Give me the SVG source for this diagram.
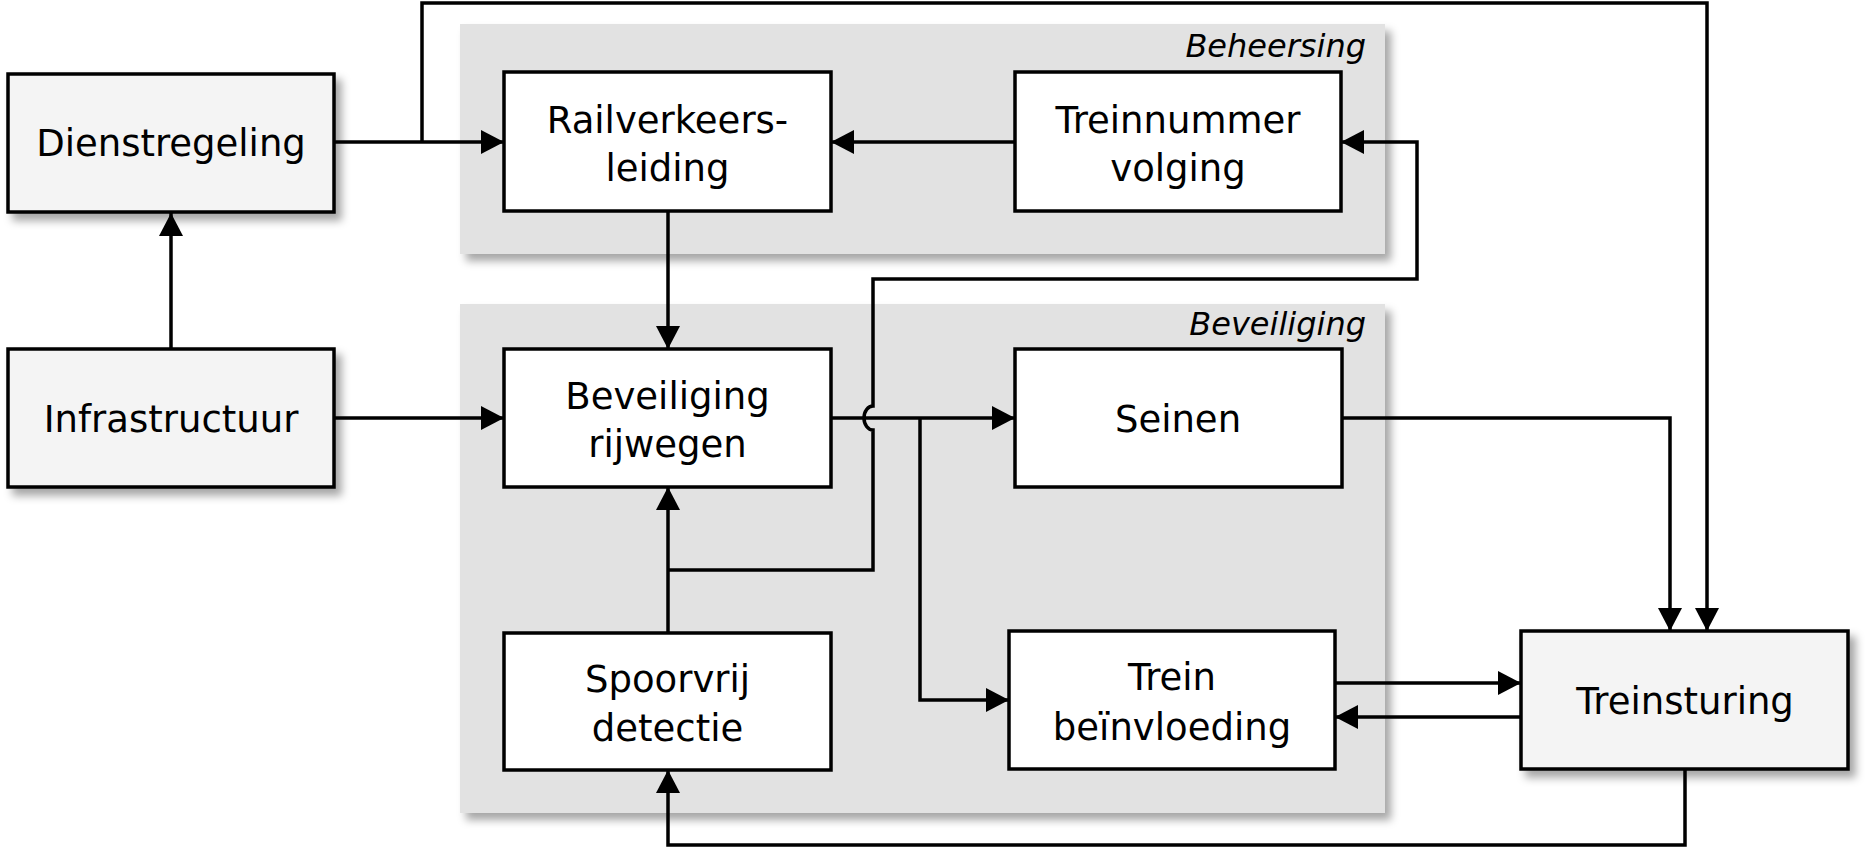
<svg xmlns="http://www.w3.org/2000/svg" width="1873" height="848" viewBox="0 0 1873 848">
<style>
.grp{fill:#e2e2e2;}
.outer{fill:#f4f4f4;stroke:#000;stroke-width:3.5;}
.inner{fill:#ffffff;stroke:#000;stroke-width:3.5;}
.t{font-family:"DejaVu Sans","Verdana",sans-serif;font-size:37px;fill:#000;text-anchor:middle;}
.gl{font-family:"DejaVu Sans","Verdana",sans-serif;font-size:32px;font-style:italic;fill:#000;text-anchor:end;}
.c{fill:none;stroke:#000;stroke-width:3.5;stroke-linejoin:miter;}
</style>
<defs>
<filter id="sh" x="-10%" y="-10%" width="125%" height="130%">
<feDropShadow dx="6" dy="7" stdDeviation="4" flood-color="#000" flood-opacity="0.35"/>
</filter>
<marker id="ah" markerUnits="userSpaceOnUse" markerWidth="24" markerHeight="24" refX="23" refY="12" orient="auto">
<path d="M0,0 L23,12 L0,24 z" fill="#000"/>
</marker>
</defs>
<rect width="1873" height="848" fill="#ffffff"/>

<g id="group-beheersing">
<rect class="grp" x="460" y="24" width="925" height="230" filter="url(#sh)"/>
<text class="gl" x="1366" y="57">Beheersing</text>
</g>
<g id="group-beveiliging">
<rect class="grp" x="460" y="304" width="925" height="509" filter="url(#sh)"/>
<text class="gl" x="1366" y="335">Beveiliging</text>
</g>

<g id="dienstregeling">
<rect class="outer" x="8" y="74" width="326" height="138" filter="url(#sh)"/>
<text class="t" x="171" y="156">Dienstregeling</text>
</g>
<g id="infrastructuur">
<rect class="outer" x="8" y="349" width="326" height="138" filter="url(#sh)"/>
<text class="t" x="171" y="432">Infrastructuur</text>
</g>
<g id="railverkeersleiding">
<rect class="inner" x="504" y="72" width="327" height="139"/>
<text class="t" x="667.5" y="133">Railverkeers-</text>
<text class="t" x="667.5" y="181">leiding</text>
</g>
<g id="treinnummervolging">
<rect class="inner" x="1015" y="72" width="326" height="139"/>
<text class="t" x="1178" y="133">Treinnummer</text>
<text class="t" x="1178" y="181">volging</text>
</g>
<g id="beveiligingrijwegen">
<rect class="inner" x="504" y="349" width="327" height="138"/>
<text class="t" x="667.5" y="409">Beveiliging</text>
<text class="t" x="667.5" y="457">rijwegen</text>
</g>
<g id="seinen">
<rect class="inner" x="1015" y="349" width="327" height="138"/>
<text class="t" x="1178" y="432">Seinen</text>
</g>
<g id="spoorvrijdetectie">
<rect class="inner" x="504" y="633" width="327" height="137"/>
<text class="t" x="667.5" y="692">Spoorvrij</text>
<text class="t" x="667.5" y="741">detectie</text>
</g>
<g id="treinbeinvloeding">
<rect class="inner" x="1009" y="631" width="326" height="138"/>
<text class="t" x="1172" y="690">Trein</text>
<text class="t" x="1172" y="740">beïnvloeding</text>
</g>
<g id="treinsturing">
<rect class="outer" x="1521" y="631" width="327" height="138" filter="url(#sh)"/>
<text class="t" x="1685" y="714">Treinsturing</text>
</g>

<g id="connectors">
<path class="c" d="M334,142 L504,142" marker-end="url(#ah)"/>
<path class="c" d="M422,142 L422,3 L1707,3 L1707,631" marker-end="url(#ah)"/>
<path class="c" d="M171,349 L171,213" marker-end="url(#ah)"/>
<path class="c" d="M334,418 L504,418" marker-end="url(#ah)"/>
<path class="c" d="M1015,142 L831,142" marker-end="url(#ah)"/>
<path class="c" d="M668,211 L668,349" marker-end="url(#ah)"/>
<path class="c" d="M668,633 L668,487" marker-end="url(#ah)"/>
<path class="c" d="M668,570 L873,570 L873,430 A9,12 0 0 1 873,406 L873,279 L1417,279 L1417,142 L1341,142" marker-end="url(#ah)"/>
<path class="c" d="M831,418 L1015,418" marker-end="url(#ah)"/>
<path class="c" d="M920,418 L920,700 L1009,700" marker-end="url(#ah)"/>
<path class="c" d="M1342,418 L1670,418 L1670,631" marker-end="url(#ah)"/>
<path class="c" d="M1335,683 L1521,683" marker-end="url(#ah)"/>
<path class="c" d="M1521,717 L1335,717" marker-end="url(#ah)"/>
<path class="c" d="M1685,769 L1685,845 L668,845 L668,770" marker-end="url(#ah)"/>
</g>
</svg>
